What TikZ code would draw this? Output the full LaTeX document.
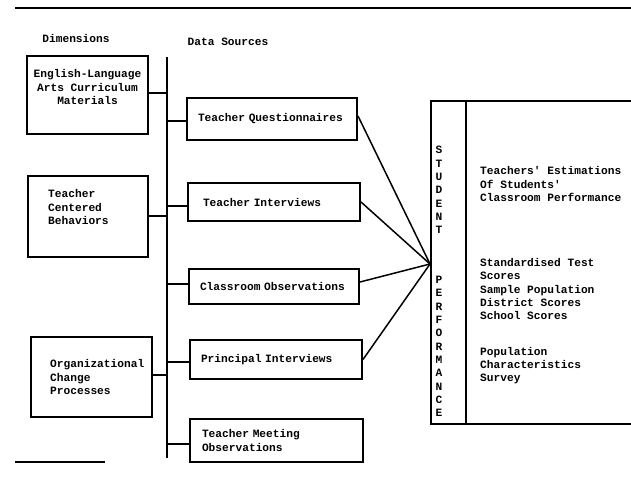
\documentclass[tikz,border=0pt]{standalone}
\usepackage{fontspec}
\setmonofont{Liberation Mono}
\begin{document}
\begin{tikzpicture}[x=1pt,y=-1pt]
\tikzset{
  box/.style={draw, line width=2pt, inner sep=0pt},
  txt/.style={font=\ttfamily\bfseries\fontsize{11.2}{13.3}\selectfont, inner sep=0pt},
  dsbox/.style={box, txt, align=left},
  link/.style={line width=2pt},
  fan/.style={line width=1.5pt},
}
\useasboundingbox (0,0) rectangle (631,478);
% top rule and small bottom-left rule
\draw[line width=1.6pt] (15,8) -- (631,8);
\draw[line width=1.6pt] (15,462) -- (105,462);

% headings
\node[txt] (hdim) at (76,38) {Dimensions};
\node[txt] (hds) at (228,42) {Data Sources};

% dimension boxes
\node[box, minimum width=121pt, minimum height=78pt] (dim1) at (87.5,95) {};
\node[txt, align=center] (dim1t) at (87.5,87) {English-Language\\Arts Curriculum\\Materials};
\node[box, minimum width=120pt, minimum height=81pt] (dim2) at (88,216.5) {};
\node[txt, align=left, anchor=west] (dim2t) at (48,207) {Teacher\\Centered\\Behaviors};
\node[box, minimum width=121pt, minimum height=80pt] (dim3) at (91.5,376.5) {};
\node[txt, align=left, anchor=west] (dim3t) at (50,377) {Organizational\\Change\\Processes};

% bus
\coordinate (bustop) at (167,57);
\coordinate (busbot) at (167,458);
\draw[line width=2pt] (bustop) -- (busbot);

% data source boxes
\node[dsbox, text width=148pt, inner xsep=11pt, minimum height=42pt] (tq) at (272,119) {Teacher Questionnaires};
\node[dsbox, text width=142pt, inner xsep=15pt, minimum height=38pt] (ti) at (274,202) {Teacher Interviews};
\node[dsbox, text width=148pt, inner xsep=11pt, minimum height=35pt] (co) at (274,286) {Classroom Observations};
\node[dsbox, text width=150pt, inner xsep=11pt, minimum height=39pt] (pi) at (276,359.5) {Principal Interviews};
\node[dsbox, text width=149pt, inner xsep=12pt, minimum height=43pt] (tm) at (276.5,440.5) {Teacher Meeting\\Observations};

% connectors to bus
\draw[link] ([yshift=2pt]dim1.east) -- ([yshift=2pt]dim1.east -| bustop);
\draw[link] (dim2.east) -- (dim2.east -| bustop);
\draw[link] ([yshift=1.5pt]dim3.east) -- ([yshift=1.5pt]dim3.east -| bustop);
\draw[link] ([yshift=-2pt]tq.west -| bustop) -- ([yshift=-2pt]tq.west);
\draw[link] ([yshift=-4pt]ti.west -| bustop) -- ([yshift=-4pt]ti.west);
\draw[link] ([yshift=2pt]co.west -| bustop) -- ([yshift=2pt]co.west);
\draw[link] ([yshift=-2pt]pi.west -| bustop) -- ([yshift=-2pt]pi.west);
\draw[link] ([yshift=-3pt]tm.west -| bustop) -- ([yshift=-3pt]tm.west);

% student performance box (open to the right, runs off the page)
\node[box, minimum width=220pt, minimum height=323pt, anchor=north west] (perf) at (430,100) {};
\draw[line width=2pt] (466,100) -- (466,423);
\coordinate (hub) at (430,264);

\node[txt, align=center] (w1) at (439,190) {S\\T\\U\\D\\E\\N\\T};
\node[txt, align=center] (w2) at (439,346.5) {P\\E\\R\\F\\O\\R\\M\\A\\N\\C\\E};

% fan lines
\draw[fan] ([yshift=3pt]tq.east) -- (hub);
\draw[fan] (ti.east) -- (hub);
\draw[fan] ([yshift=4pt]co.east) -- (hub);
\draw[fan] (pi.east) -- (hub);

% outcome texts
\node[txt, align=left, anchor=west] (o1) at (480,184) {Teachers' Estimations\\Of Students'\\Classroom Performance};
\node[txt, align=left, anchor=west] (o2) at (480,289) {Standardised Test\\Scores\\Sample Population\\District Scores\\School Scores};
\node[txt, align=left, anchor=west] (o3) at (480,365.5) {Population\\Characteristics\\Survey};
\end{tikzpicture}
\end{document}
